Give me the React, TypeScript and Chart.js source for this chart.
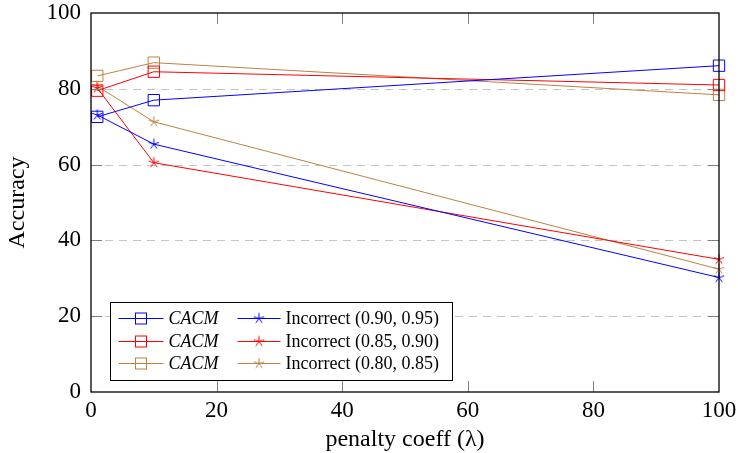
import React, { useEffect, useRef } from 'react';
import { Chart, registerables } from 'chart.js';

Chart.register(...registerables);

// ---- data ----
const lambdaValues = [1, 10, 100];
const cacmBlue = [72.6, 77.0, 86.1];
const cacmRed = [79.5, 84.5, 81.0];
const cacmBrown = [83.4, 86.9, 78.4];
const incorrectBlue = [73.1, 65.4, 30.2];
const incorrectRed = [80.2, 60.5, 35.0];
const incorrectBrown = [80.7, 71.3, 32.4];
const xTickValues = [0, 20, 40, 60, 80, 100];
const yTickValues = [0, 20, 40, 60, 80, 100];
const seriesLabels = [
  'CACM',
  'CACM',
  'CACM',
  'Incorrect (0.90, 0.95)',
  'Incorrect (0.85, 0.90)',
  'Incorrect (0.80, 0.85)',
];

const BLUE = '#0000ff';
const RED = '#ff0000';
const BROWN = '#bf8040';
const SERIF = '"Liberation Serif", "Times New Roman", serif';

function makeStar(color: string): HTMLCanvasElement {
  const c = document.createElement('canvas');
  c.width = 14;
  c.height = 14;
  const g = c.getContext('2d')!;
  g.strokeStyle = color;
  g.lineWidth = 1;
  g.beginPath();
  for (let k = 0; k < 5; k++) {
    const a = -Math.PI / 2 + (k * 2 * Math.PI) / 5;
    g.moveTo(7, 7);
    g.lineTo(7 + 5.5 * Math.cos(a), 7 + 5.5 * Math.sin(a));
  }
  g.stroke();
  return c;
}

function toPoints(ys: number[]) {
  return lambdaValues.map((x, i) => ({ x, y: ys[i] }));
}

const framePlugin = {
  id: 'pgfFrame',
  beforeDatasetsDraw(chart: any) {
    const { ctx, chartArea } = chart;
    const y = chart.scales.y;
    ctx.save();
    ctx.strokeStyle = '#c4c4c4';
    ctx.lineWidth = 1;
    ctx.setLineDash([8, 6]);
    yTickValues.forEach((v) => {
      if (v === 0 || v === 100) return;
      const py = Math.round(y.getPixelForValue(v)) + 0.5;
      ctx.beginPath();
      ctx.moveTo(chartArea.left, py);
      ctx.lineTo(chartArea.right, py);
      ctx.stroke();
    });
    ctx.restore();
  },
  afterDatasetsDraw(chart: any) {
    const { ctx, chartArea } = chart;
    const xs = chart.scales.x;
    const ys = chart.scales.y;
    const L = 11;
    ctx.save();
    ctx.strokeStyle = '#808080';
    ctx.lineWidth = 1;
    ctx.beginPath();
    xTickValues.forEach((v) => {
      if (v === 0 || v === 100) return;
      const px = Math.round(xs.getPixelForValue(v)) + 0.5;
      ctx.moveTo(px, chartArea.bottom);
      ctx.lineTo(px, chartArea.bottom - L);
      ctx.moveTo(px, chartArea.top);
      ctx.lineTo(px, chartArea.top + L);
    });
    yTickValues.forEach((v) => {
      if (v === 0 || v === 100) return;
      const py = Math.round(ys.getPixelForValue(v)) + 0.5;
      ctx.moveTo(chartArea.left, py);
      ctx.lineTo(chartArea.left + L, py);
      ctx.moveTo(chartArea.right, py);
      ctx.lineTo(chartArea.right - L, py);
    });
    ctx.stroke();
    ctx.strokeStyle = '#000';
    ctx.lineWidth = 1.3;
    ctx.strokeRect(chartArea.left, chartArea.top, chartArea.right - chartArea.left, chartArea.bottom - chartArea.top);

    // legend
    const bx = chartArea.left + 19.5;
    const by = chartArea.bottom - 89.5;
    const bw = 342;
    const bh = 78;
    ctx.fillStyle = '#fff';
    ctx.fillRect(bx, by, bw, bh);
    ctx.strokeStyle = '#000';
    ctx.lineWidth = 1;
    ctx.strokeRect(bx, by, bw, bh);
    const rowY = [16, 39, 61];
    const colLine = [
      [8, 53],
      [127, 170],
    ];
    const colText = [58, 175];
    chart.data.datasets.forEach((ds: any, i: number) => {
      const col = i < 3 ? 0 : 1;
      const row = i % 3;
      const yy = by + rowY[row];
      const x0 = bx + colLine[col][0];
      const x1 = bx + colLine[col][1];
      ctx.strokeStyle = ds.borderColor;
      ctx.lineWidth = 1;
      ctx.beginPath();
      ctx.moveTo(x0, yy);
      ctx.lineTo(x1, yy);
      ctx.stroke();
      const mx = (x0 + x1) / 2;
      if (ds.pointStyle === 'rect') {
        ctx.strokeRect(mx - 5.5, yy - 5.5, 11, 11);
      } else {
        const img = ds.pointStyle as HTMLCanvasElement;
        ctx.drawImage(img, mx - img.width / 2, yy - img.height / 2);
      }
      ctx.fillStyle = '#000';
      ctx.textBaseline = 'middle';
      ctx.textAlign = 'left';
      ctx.font = (col === 0 ? 'italic ' : '') + '18px ' + SERIF;
      ctx.fillText(ds.label, bx + colText[col], yy + 1);
    });
    ctx.restore();
  },
};

export default function App() {
  const canvasRef = useRef<HTMLCanvasElement | null>(null);

  useEffect(() => {
    const canvas = canvasRef.current;
    if (!canvas) return;
    const colors = [BLUE, RED, BROWN, BLUE, RED, BROWN];
    const values = [cacmBlue, cacmRed, cacmBrown, incorrectBlue, incorrectRed, incorrectBrown];
    const datasets = values.map((vals, i) => {
      const isStar = i >= 3;
      return {
        label: seriesLabels[i],
        data: toPoints(vals),
        borderColor: colors[i],
        backgroundColor: 'rgba(0,0,0,0)',
        borderWidth: 1,
        pointStyle: isStar ? makeStar(colors[i]) : 'rect',
        pointRadius: 8,
        pointBorderWidth: 1,
        pointBorderColor: colors[i],
        pointBackgroundColor: 'rgba(0,0,0,0)',
        tension: 0,
        clip: false as any,
      };
    });

    const tickFont = { family: SERIF, size: 23 };
    const chart = new Chart(canvas, {
      type: 'line',
      data: { datasets },
      options: {
        animation: false,
        responsive: false,
        devicePixelRatio: 1,
        layout: { padding: { top: 13, right: 19, left: 0, bottom: 0 } },
        plugins: { legend: { display: false }, tooltip: { enabled: false } },
        scales: {
          x: {
            type: 'linear',
            min: 0,
            max: 100,
            afterBuildTicks: (s: any) => {
              s.ticks = xTickValues.map((v) => ({ value: v }));
            },
            grid: { display: false, drawTicks: false },
            border: { display: false },
            ticks: { padding: 5, font: tickFont, color: '#000', maxRotation: 0, autoSkip: false },
            title: {
              display: true,
              text: 'penalty coeff (λ)',
              font: { family: SERIF, size: 24, lineHeight: 1.1 },
              color: '#000',
              padding: { top: 0, bottom: 0 },
            },
            afterFit: (s: any) => {
              s.height = 61;
              s.paddingLeft = 0;
              s.paddingRight = 0;
            },
          },
          y: {
            type: 'linear',
            min: 0,
            max: 100,
            afterBuildTicks: (s: any) => {
              s.ticks = yTickValues.map((v) => ({ value: v }));
            },
            grid: { display: false, drawTicks: false },
            border: { display: false },
            ticks: { padding: 10, font: tickFont, color: '#000', autoSkip: false },
            title: {
              display: true,
              text: 'Accuracy',
              font: { family: SERIF, size: 24, lineHeight: 1.2 },
              color: '#000',
              padding: { top: 3, bottom: 0 },
            },
            afterFit: (s: any) => {
              s.width = 91;
              s.paddingTop = 0;
              s.paddingBottom = 0;
            },
          },
        },
      },
      plugins: [framePlugin],
    } as any);
    return () => chart.destroy();
  }, []);

  return (
    <div style={{ position: 'fixed', left: 0, top: 0, width: 738, height: 453, background: '#fff' }}>
      <canvas ref={canvasRef} width={738} height={453} style={{ display: 'block', width: 738, height: 453 }} />
    </div>
  );
}
